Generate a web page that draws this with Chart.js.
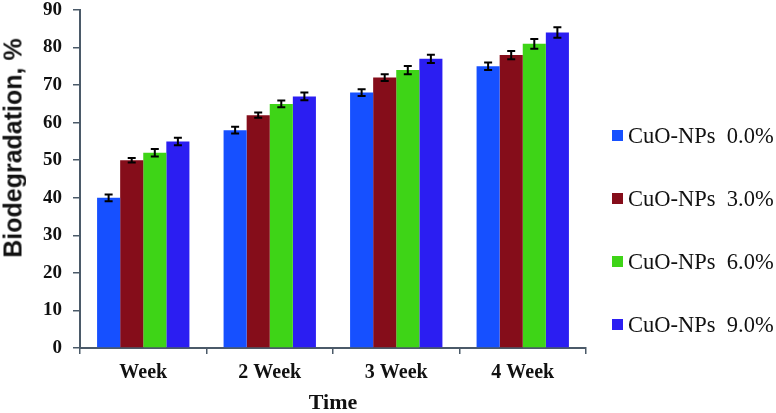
<!DOCTYPE html>
<html>
<head>
<meta charset="utf-8">
<script src="https://cdn.jsdelivr.net/npm/chart.js@4.4.1/dist/chart.umd.min.js"></script>
<style>
  html, body { margin: 0; padding: 0; background: #fff; }
  #wrap { position: relative; width: 776px; height: 413px; overflow: hidden; }
  #legend { position: absolute; left: 612px; top: 0; font-family: "Liberation Serif", "Times New Roman", serif; font-size: 22.5px; color: #111; }
  .item { position: absolute; left: 0; height: 28px; line-height: 28px; white-space: pre; display: flex; align-items: center; }
  .sw { width: 11px; height: 11px; margin-right: 5px; display: inline-block; }
  #ytitle { position: absolute; left: 13px; top: 148px; transform: translate(-50%, -50%) rotate(-90deg); font-family: "Liberation Sans", Arial, sans-serif; font-weight: bold; font-size: 25px; color: #111; white-space: nowrap; line-height: 1; }
</style>
</head>
<body>
<div id="wrap">
  <canvas id="c" width="776" height="413"></canvas>
  <div id="legend"></div>
  <div id="ytitle"></div>
</div>
<script>
const categories = ["Week", "2 Week", "3 Week", "4 Week"];
const seriesLabels = ["CuO-NPs  0.0%", "CuO-NPs  3.0%", "CuO-NPs  6.0%", "CuO-NPs  9.0%"];
const seriesColors = ["#1650FF", "#850D1A", "#3ED417", "#2B1EF2"];
const cuo0 = [40, 58, 68, 75];
const cuo3 = [50, 62, 72, 78];
const cuo6 = [52, 65, 74, 81];
const cuo9 = [55, 67, 77, 84];
const err0 = [0.9, 0.9, 0.9, 1.0];
const err3 = [0.6, 0.7, 0.9, 1.1];
const err6 = [1.0, 0.9, 1.1, 1.3];
const err9 = [1.0, 1.0, 1.1, 1.4];
const yTicks = [0, 10, 20, 30, 40, 50, 60, 70, 80, 90];
const yTitle = "Biodegradation, %";
const xTitle = "Time";

const values = [cuo0, cuo3, cuo6, cuo9];
const errors = [err0, err3, err6, err9];

const serif = "'Liberation Serif', 'Times New Roman', serif";
const axisColor = '#4b5a69';

const errorBarPlugin = {
  id: 'errorBars',
  afterDatasetsDraw(chart) {
    const ctx = chart.ctx;
    const y = chart.scales.y;
    ctx.save();
    ctx.strokeStyle = '#000';
    ctx.lineWidth = 2;
    chart.data.datasets.forEach((ds, di) => {
      const meta = chart.getDatasetMeta(di);
      meta.data.forEach((bar, i) => {
        const v = ds.data[i], e = ds.err[i];
        const yt = y.getPixelForValue(v + e);
        const yb = y.getPixelForValue(v - e);
        const x = bar.x;
        ctx.beginPath();
        ctx.moveTo(x, yt); ctx.lineTo(x, yb);
        ctx.moveTo(x - 4, yt); ctx.lineTo(x + 4, yt);
        ctx.moveTo(x - 4, yb); ctx.lineTo(x + 4, yb);
        ctx.stroke();
      });
    });
    ctx.restore();
  }
};

const chart = new Chart(document.getElementById('c'), {
  type: 'bar',
  data: {
    labels: categories,
    datasets: values.map((d, i) => ({
      label: seriesLabels[i],
      data: d,
      err: errors[i],
      backgroundColor: seriesColors[i],
      borderWidth: 0,
      barPercentage: 1.0,
      categoryPercentage: 0.73
    }))
  },
  options: {
    responsive: false,
    animation: false,
    devicePixelRatio: 1,
    layout: { padding: { top: 0, right: 190, left: 0, bottom: 0 } },
    plugins: { legend: { display: false }, tooltip: { enabled: false } },
    scales: {
      x: {
        grid: { display: true, drawOnChartArea: false, color: axisColor, lineWidth: 1.5, tickLength: 6, offset: true },
        border: { display: true, color: axisColor, width: 2 },
        ticks: { color: '#111', font: { family: serif, size: 20, weight: 'bold' }, padding: 7 },
        title: { display: true, text: xTitle, color: '#111', font: { family: serif, size: 22, weight: 'bold' }, padding: { top: 0, bottom: -4 } },
        afterFit(s) { s.height = 65; s.paddingLeft = 0; s.paddingRight = 0; }
      },
      y: {
        min: 0, max: 90,
        afterBuildTicks(s) { s.ticks = yTicks.map(v => ({ value: v })); },
        grid: { display: true, drawOnChartArea: false, color: axisColor, lineWidth: 1.5, tickLength: 7 },
        border: { display: true, color: axisColor, width: 2 },
        ticks: { color: '#111', font: { family: serif, size: 19, weight: 'bold' }, padding: 11 },
        title: { display: false },
        afterFit(s) { s.width = 80; s.paddingTop = 10; s.paddingBottom = 0; }
      }
    }
  },
  plugins: [errorBarPlugin]
});

document.getElementById('ytitle').textContent = yTitle;

const legend = document.getElementById('legend');
const legendCenters = [135.5, 198.5, 261.5, 324.5];
seriesLabels.forEach((lab, i) => {
  const it = document.createElement('div');
  it.className = 'item';
  it.style.top = (legendCenters[i] - 14) + 'px';
  it.innerHTML = '<span class="sw" style="background:' + seriesColors[i] + '"></span>' + lab;
  legend.appendChild(it);
});
</script>
</body>
</html>
